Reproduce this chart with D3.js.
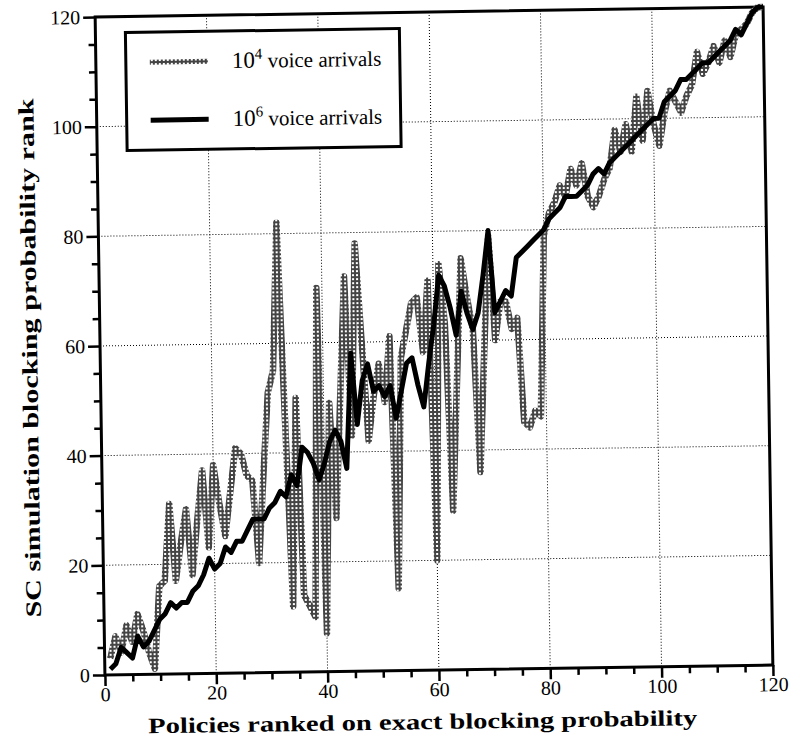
<!DOCTYPE html>
<html lang="en">
<head>
<meta charset="utf-8">
<title>SC simulation blocking probability rank</title>
<style>
  body { margin:0; background:#fff; }
  .tick text { font:20px "Liberation Serif", "Times New Roman", serif; fill:#000; }
  .axis-title { font:bold 22px "Liberation Serif", "Times New Roman", serif; }
  .legend text { font:21px "Liberation Serif", "Times New Roman", serif; }
  .grid line { stroke:#000; stroke-width:1; stroke-dasharray:1,2; }
</style>
</head>
<body>
<svg class="chart"></svg>
<script src="https://cdnjs.cloudflare.com/ajax/libs/d3/7.8.5/d3.min.js"></script>
<script>
// policies ranked on exact blocking probability
var policies = [1,2,3,4,5,6,7,8,9,10,11,12,13,14,15,16,17,18,19,20,
  21,22,23,24,25,26,27,28,29,30,31,32,33,34,35,36,37,38,39,40,
  41,42,43,44,45,46,47,48,49,50,51,52,53,54,55,56,57,58,59,60,
  61,62,63,64,65,66,67,68,69,70,71,72,73,74,75,76,77,78,79,80,
  81,82,83,84,85,86,87,88,89,90,91,92,93,94,95,96,97,98,99,100,
  101,102,103,104,105,106,107,108,109,110,111,112,113,114,115,116,117,118,119,120];

// SC simulation rank, 10^4 voice arrivals
var rank1e4 = [3,7,4,9,6,11,8,4,1,16,
  17,31,17,24,30,18,28,37,23,38,
  31,25,33,41,40,36,35,20,36,51,
  55,82,47,12,50,14,12,10,70,7,
  49,28,50,72,43,78,60,42,50,56,
  49,61,15,57,62,67,68,58,71,20,
  74,63,29,52,75,68,62,36,58,79,
  60,67,67,62,64,45,44,47,46,79,
  83,85,88,86,91,88,92,86,84,86,
  89,91,98,94,99,94,104,96,105,99,
  95,101,105,103,101,104,106,112,108,110,
  113,110,114,111,115,116,117,119,120,120];

// SC simulation rank, 10^6 voice arrivals
var rank1e6 = [1,2,5,4,3,7,5,6,8,10,
  11,13,12,13,13,15,16,18,21,19,
  20,23,22,24,24,26,28,28,28,30,
  31,33,32,36,34,41,40,38,35,38,
  42,44,42,37,58,45,53,56,51,52,
  50,52,46,51,56,57,52,48,56,63,
  72,70,66,61,69,65,62,65,72,80,
  65,67,69,68,75,76,77,78,79,80,
  82,83,84,86,86,86,87,88,90,91,
  90,92,93,94,95,96,97,98,99,100,
  100,103,104,105,107,107,108,109,110,110,
  111,112,113,114,116,115,117,119,120,120];

var majorTicks = [0,20,40,60,80,100,120];
var minorTicks = [5,10,15,25,30,35,45,50,55,65,70,75,85,90,95,105,110,115];
var gridTicks = [20,40,60,80,100];
var legendLabels = [["10","4"," voice arrivals"],["10","6"," voice arrivals"]];

var W = 791, H = 749;
var margin = {left:100, right:23, top:12, bottom:79};

var svg = d3.select('.chart').attr('width', W).attr('height', H);

// hatched look of the 10^4 curve
var defs = svg.append('defs');
var pat = defs.append('pattern')
    .attr('id', 'chk').attr('patternUnits', 'userSpaceOnUse')
    .attr('width', 4).attr('height', 4);
pat.append('rect').attr('width', 4).attr('height', 4).attr('fill', '#444');
pat.append('rect').attr('x', 1).attr('y', 1).attr('width', 2).attr('height', 2).attr('fill', '#fff');

// the scanned page is a little tilted
var page = svg.append('g').attr('transform', 'rotate(-0.85,434,341)');

var x = d3.scaleLinear().domain([0, 120]).range([margin.left, W - margin.right]);
var y = d3.scaleLinear().domain([0, 120]).range([H - margin.bottom, margin.top]);

//grid
var grid = page.append('g').attr('class', 'grid');
grid.selectAll('.gx').data(gridTicks).enter().append('line')
  .attr('x1', d => x(d)).attr('x2', d => x(d))
  .attr('y1', y(0)).attr('y2', y(120));
grid.selectAll('.gy').data(gridTicks).enter().append('line')
  .attr('y1', d => y(d)).attr('y2', d => y(d))
  .attr('x1', x(0)).attr('x2', x(120));

//axes
function styleAxis(g) {
  g.select('.domain').remove();
  g.selectAll('.tick line').attr('stroke', '#000').attr('stroke-width', 2.5);
}
page.append('g').attr('transform', 'translate(0,' + y(0) + ')')
  .call(d3.axisBottom(x).tickValues(minorTicks).tickSize(7).tickFormat(''))
  .call(styleAxis);
page.append('g').attr('transform', 'translate(0,' + y(0) + ')')
  .call(d3.axisBottom(x).tickValues(majorTicks).tickSize(11).tickPadding(1))
  .call(styleAxis);
page.append('g').attr('transform', 'translate(' + x(0) + ',0)')
  .call(d3.axisLeft(y).tickValues(minorTicks).tickSize(7).tickFormat(''))
  .call(styleAxis);
page.append('g').attr('transform', 'translate(' + x(0) + ',0)')
  .call(d3.axisLeft(y).tickValues(majorTicks).tickSize(12).tickPadding(3))
  .call(styleAxis);

// frame
page.append('rect')
  .attr('x', x(0)).attr('y', y(120))
  .attr('width', x(120) - x(0)).attr('height', y(0) - y(120))
  .attr('fill', 'none').attr('stroke', '#000').attr('stroke-width', 3);

//lines
var line1 = d3.line().x((d, i) => x(policies[i])).y(d => y(d));
page.append('path').datum(rank1e4)
  .attr('d', line1)
  .attr('fill', 'none').attr('stroke', 'url(#chk)')
  .attr('stroke-width', 6.5).attr('stroke-linejoin', 'round');
page.append('path').datum(rank1e6)
  .attr('d', line1)
  .attr('fill', 'none').attr('stroke', '#000')
  .attr('stroke-width', 5).attr('stroke-linejoin', 'round');

//legend
var legend = page.append('g').attr('class', 'legend').attr('transform', 'translate(130,28)');
legend.append('rect').attr('width', 274).attr('height', 118)
  .attr('fill', '#fff').attr('stroke', '#000').attr('stroke-width', 3);
var rows = legend.selectAll('.row').data(legendLabels).enter().append('g')
  .attr('transform', (d, i) => 'translate(0,' + (30 + i * 58) + ')');
rows.append('line').attr('x1', 24).attr('x2', 82)
  .attr('stroke', (d, i) => i ? '#000' : 'url(#chk)')
  .attr('stroke-width', 5);
var t = rows.append('text').attr('x', 106).attr('y', 7);
t.append('tspan').text(d => d[0]).style('font-size', '23px');
t.append('tspan').text(d => d[1]).attr('dy', -9).style('font-size', '15px');
t.append('tspan').text(d => d[2]).attr('dy', 9);

//axis titles
page.append('text').attr('class', 'axis-title')
  .attr('x', 417).attr('y', 729).attr('text-anchor', 'middle')
  .attr('textLength', 549).attr('lengthAdjust', 'spacingAndGlyphs')
  .text('Policies ranked on exact blocking probability');
page.append('text').attr('class', 'axis-title')
  .attr('transform', 'translate(37,352) rotate(-90)').attr('text-anchor', 'middle')
  .attr('textLength', 519).attr('lengthAdjust', 'spacingAndGlyphs')
  .text('SC simulation blocking probability rank');
</script>
</body>
</html>
